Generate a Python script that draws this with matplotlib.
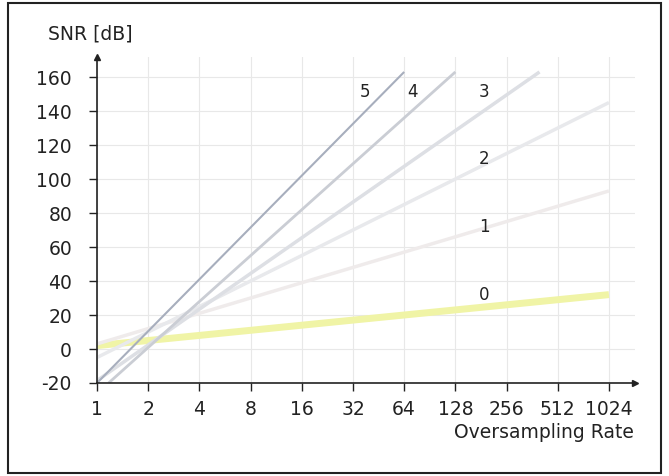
import matplotlib.pyplot as plt
from matplotlib.patches import Rectangle

plt.rcParams['axes.unicode_minus'] = False

# oversampling rate axis
osr_ticks = [1, 2, 4, 8, 16, 32, 64, 128, 256, 512, 1024]
snr_ticks = [-20, 0, 20, 40, 60, 80, 100, 120, 140, 160]

# end points of each modulator order line (OSR, SNR in dB)
order_names = ['0', '1', '2', '3', '4', '5']
order_osr = [[1, 1024], [1, 1024], [1, 1024], [1, 400], [1.17, 128], [1, 64]]
order_snr = [[2, 32], [3, 93], [-5, 145], [-18.6, 163], [-20, 163], [-20, 163]]
order_colors = ['#f0f4a6', '#efebeb', '#e8e9ec', '#dddfe4', '#cacdd4', '#a7aebd']
order_widths = [5, 2.5, 2.5, 2.5, 2, 1.5]

# label positions for the order numbers
label_osr = [189, 189, 189, 189, 72, 37.8]
label_snr = [32, 72, 112, 151, 151, 151]

fig = plt.figure(figsize=(6.69, 4.76), dpi=100)
fig.patches.append(Rectangle((8 / 669, 3 / 476), 653 / 669, 470 / 476,
                             transform=fig.transFigure, fill=False,
                             edgecolor='#222222', linewidth=1.5))

ax = fig.add_axes([97 / 669, (476 - 383) / 476, 538 / 669, 326 / 476])
ax.set_xscale('log', base=2)
ax.set_xlim(1, 1457)
ax.set_ylim(-20, 171.8)

for osr_v, snr_v, c, w in zip(order_osr, order_snr, order_colors, order_widths):
    ax.plot(osr_v, snr_v, color=c, linewidth=w, solid_capstyle='butt')

for name, lx, ly in zip(order_names, label_osr, label_snr):
    ax.text(lx, ly, name, fontsize=12, color='#222222', ha='center', va='center')

ax.set_xticks(osr_ticks)
ax.set_xticklabels([str(t) for t in osr_ticks])
ax.set_yticks(snr_ticks)
ax.minorticks_off()
ax.tick_params(axis='both', labelsize=13.5, colors='#222222', length=6, width=1)
ax.tick_params(axis='y', pad=12)
ax.tick_params(axis='x', pad=6)
ax.grid(True, color='#e8e8e8', linewidth=0.8)
ax.set_axisbelow(True)

for s in ['top', 'right']:
    ax.spines[s].set_visible(False)
for s in ['left', 'bottom']:
    ax.spines[s].set_color('#222222')
    ax.spines[s].set_linewidth(1.2)

# arrow heads on the axes
ax.plot(1, 0, '>', color='#222222', markersize=4, transform=ax.transAxes, clip_on=False)
ax.plot(0, 1, '^', color='#222222', markersize=4, transform=ax.transAxes, clip_on=False)

fig.text(48 / 669, 1 - 34 / 476, 'SNR [dB]', fontsize=13.5, color='#222222',
         ha='left', va='center')
fig.text(634 / 669, 1 - 433 / 476, 'Oversampling Rate', fontsize=13.5, color='#222222',
         ha='right', va='center')

fig.savefig('out.png', dpi=100)
